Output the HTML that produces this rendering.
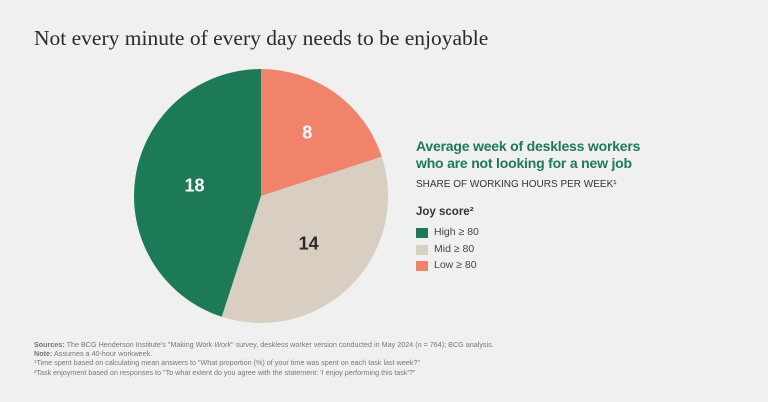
<!DOCTYPE html>
<html><head><meta charset="utf-8"><style>
body{margin:0;width:768px;height:402px;background:#f1f0f0;font-family:"Liberation Sans",sans-serif;position:relative;overflow:hidden}
.t{position:absolute;white-space:nowrap}
.sw{position:absolute;width:12px;height:10px}
</style></head><body>
<div class="t" style="left:34px;top:26px;font-family:'Liberation Serif',serif;font-size:21.5px;color:#2a2a2a">Not every minute of every day needs to be enjoyable</div>
<svg id="pie" width="768" height="402" style="position:absolute;left:0;top:0"></svg>
<div class="t" style="left:416px;top:138px;font-size:14px;font-weight:bold;color:#1c7a57;line-height:17px;letter-spacing:-0.2px">Average week of deskless workers<br>who are not looking for a new job</div>
<div class="t" style="left:416px;top:179px;font-size:10px;color:#333">SHARE OF WORKING HOURS PER WEEK¹</div>
<div class="t" style="left:416px;top:206px;font-size:11.5px;font-weight:bold;color:#333">Joy score²</div>
<div class="sw" style="left:416px;top:228px;background:#1c7a57"></div>
<div class="t" style="left:434px;top:226px;font-size:10.5px;color:#444">High ≥ 80</div>
<div class="sw" style="left:416px;top:245px;background:#d8cec2"></div>
<div class="t" style="left:434px;top:243px;font-size:10.5px;color:#444">Mid ≥ 80</div>
<div class="sw" style="left:416px;top:261px;background:#f2836b"></div>
<div class="t" style="left:434px;top:259px;font-size:10.5px;color:#444">Low ≥ 80</div>
<div class="t" style="left:34px;top:340px;font-size:7.2px;color:#777;line-height:9.2px">
<b>Sources:</b> The BCG Henderson Institute's "Making Work <i>Work</i>" survey, deskless worker version conducted in May 2024 (<i>n</i> = 764); BCG analysis.<br>
<b>Note:</b> Assumes a 40-hour workweek.<br>
¹Time spent based on calculating mean answers to "What proportion (%) of your time was spent on each task last week?"<br>
²Task enjoyment based on responses to "To what extent do you agree with the statement: 'I enjoy performing this task'?"</div>
<script>
const categories=["Low","Mid","High"];
const values=[8,14,18];
const colors=["#f2836b","#d8cec2","#1c7a57"];
const labelColors=["#fff","#2a2a2a","#fff"];
const svg=document.getElementById('pie');
const ns="http://www.w3.org/2000/svg";
const cx=261,cy=196,r=127;
const total=values.reduce((a,b)=>a+b,0);
let a0=-Math.PI/2;
values.forEach((v,i)=>{
  const a1=a0+v/total*2*Math.PI;
  const large=(a1-a0)>Math.PI?1:0;
  const p=document.createElementNS(ns,'path');
  p.setAttribute('d',`M${cx},${cy}L${cx+r*Math.cos(a0)},${cy+r*Math.sin(a0)}A${r},${r} 0 ${large} 1 ${cx+r*Math.cos(a1)},${cy+r*Math.sin(a1)}Z`);
  p.setAttribute('fill',colors[i]);
  
  
  svg.appendChild(p);
  const am=(a0+a1)/2, lr=r*(v/total<0.25?0.62:0.53);
  const t=document.createElementNS(ns,'text');
  t.setAttribute('x',cx+lr*Math.cos(am));
  t.setAttribute('y',cy+lr*Math.sin(am)+6);
  t.setAttribute('text-anchor','middle');
  t.setAttribute('font-family','Liberation Sans, sans-serif');
  t.setAttribute('font-weight','bold');
  t.setAttribute('font-size','18');
  t.setAttribute('fill',labelColors[i]);
  t.textContent=v;
  
  
  svg.appendChild(t);
  a0=a1;
});
</script>
</body></html>
